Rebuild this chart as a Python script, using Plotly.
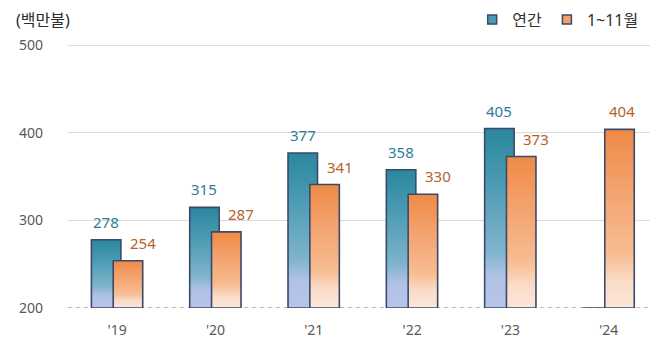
import plotly.graph_objects as go

categories = ["'19", "'20", "'21", "'22", "'23", "'24"]
annual = [278, 315, 377, 358, 405, 0]
jan_nov = [254, 287, 341, 330, 373, 404]
series_names = ["연간", "1~11월"]
y_ticks = [200, 300, 400, 500]
unit_label = "(백만불)"

Y_MIN, Y_MAX = 200, 500
BAR_W = 0.30
OFFSETS = [-0.112, 0.11]
OUTLINE = "#3B4A68"
BLUE_SCALE = [[0, "#B9C4EA"], [0.18, "#AFC2E6"], [0.32, "#7FB3CC"], [0.7, "#4A9BB2"], [1, "#2A869E"]]
ORANGE_SCALE = [[0, "#FBE6DA"], [0.15, "#FADCC8"], [0.3, "#F7BD93"], [0.7, "#F3A06A"], [1, "#EF8A45"]]
LABEL_COLORS = ["#2F7C96", "#B3622C"]
FONT = "Noto Sans, Noto Sans CJK KR, sans-serif"

fig = go.Figure()

for s, (vals, scale) in enumerate([(annual, BLUE_SCALE), (jan_nov, ORANGE_SCALE)]):
    for i, v in enumerate(vals):
        top = max(v, Y_MIN)
        xc = i + OFFSETS[s]
        x0, x1 = xc - BAR_W / 2, xc + BAR_W / 2
        grad = dict(type="vertical", colorscale=scale)
        if top > Y_MIN:
            grad.update(start=Y_MIN, stop=top)
        fig.add_trace(go.Scatter(
            x=[x0, x0, x1, x1, x0], y=[Y_MIN, top, top, Y_MIN, Y_MIN],
            mode="lines", fill="toself", fillgradient=grad,
            line=dict(color=OUTLINE, width=1.6), showlegend=False, hoverinfo="skip",
        ))

# legend entries
for name, col in zip(series_names, ["#4A9BB2", "#F3A06A"]):
    fig.add_trace(go.Scatter(
        x=[None], y=[None], mode="markers", name=name,
        marker=dict(symbol="square", size=9, color=col, line=dict(color=OUTLINE, width=1.5)),
    ))

# value labels
for i, v in enumerate(annual):
    if v > Y_MIN:
        fig.add_annotation(x=i + OFFSETS[0], y=v, text=str(v), showarrow=False,
                           yshift=18, font=dict(size=15, color=LABEL_COLORS[0], family=FONT))
for i, v in enumerate(jan_nov):
    shift = 15 if annual[i] > Y_MIN else 2
    fig.add_annotation(x=i + OFFSETS[1], y=v, text=str(v), showarrow=False,
                       yshift=18, xshift=shift, font=dict(size=15, color=LABEL_COLORS[1], family=FONT))

fig.add_annotation(xref="paper", yref="paper", x=-0.093, y=1.08, xanchor="left", yanchor="middle",
                   text=unit_label, showarrow=False, font=dict(size=16, color="#2B2B2B", family=FONT))

fig.add_shape(type="line", xref="paper", x0=0, x1=1, y0=y_ticks[0], y1=y_ticks[0],
              line=dict(color="#BBBBBB", width=2, dash="4px,4px"), layer="below")

fig.update_layout(
    width=658, height=357,
    margin=dict(l=68, r=8, t=41, b=49, autoexpand=False),
    plot_bgcolor="white", paper_bgcolor="white",
    font=dict(family=FONT, size=14, color="#595959"),
    xaxis=dict(range=[-0.5, 5.42], tickvals=list(range(len(categories))), ticktext=categories,
               showgrid=False, zeroline=False, showline=False, ticks="", ticklabelstandoff=12,
               tickfont=dict(size=14, color="#595959")),
    yaxis=dict(range=[Y_MIN, Y_MAX + 5], tickvals=y_ticks, showgrid=True, gridcolor="#DCDCDC",
               gridwidth=1.2, zeroline=False, showline=False, ticks="", ticklabelstandoff=24,
               tickfont=dict(size=14, color="#595959")),
    legend=dict(orientation="h", x=0.99, xanchor="right", y=1.08, yanchor="middle",
                font=dict(size=16, color="#333333"), bgcolor="rgba(0,0,0,0)"),
    showlegend=True,
)

fig.write_html("out.html", config={"displayModeBar": False},
               post_script="document.body.style.margin='0';document.body.style.padding='0';")
